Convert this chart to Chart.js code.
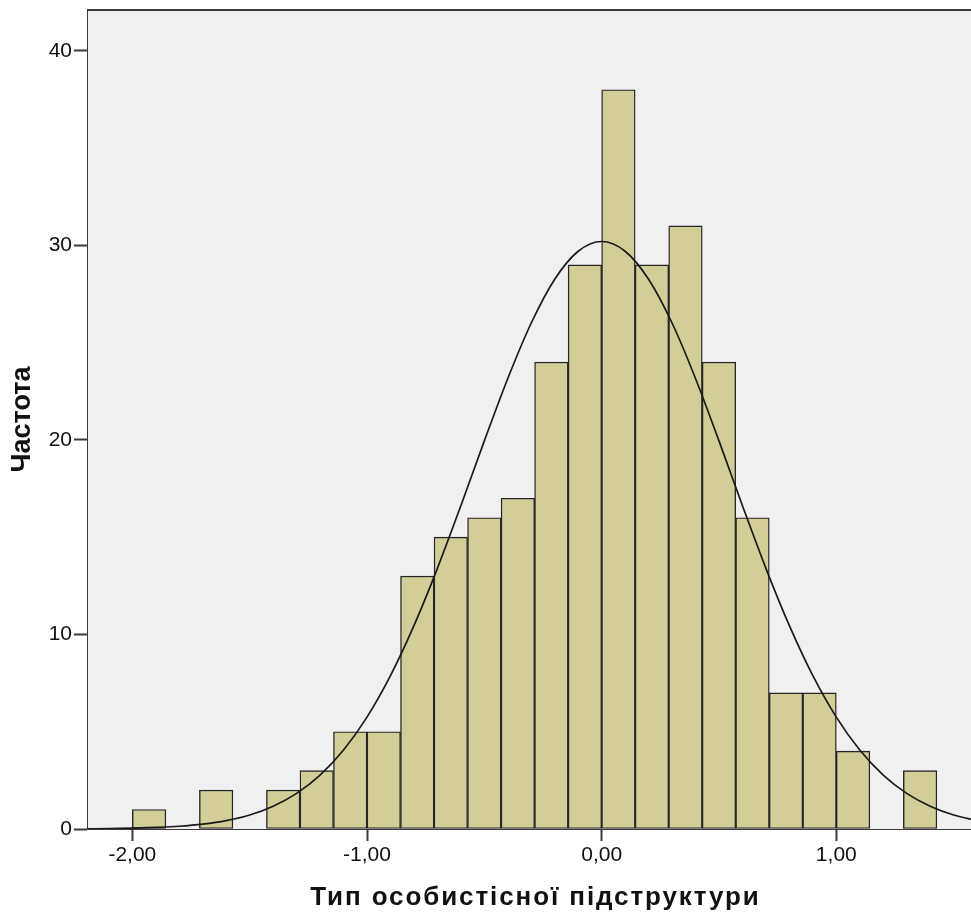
<!DOCTYPE html>
<html>
<head>
<meta charset="utf-8">
<script src="https://cdn.jsdelivr.net/npm/chart.js@4.4.1/dist/chart.umd.min.js"></script>
<style>
  html, body { margin: 0; padding: 0; background: #fff; }
  #wrap { width: 971px; height: 915px; }
</style>
</head>
<body>
<div id="wrap"><canvas id="histChart" width="971" height="915"></canvas></div>
<script>
// histogram bins: first bin starts at -2,00, width 1/7
const binStart = -2;
const binWidth = 1 / 7;
const counts = [1, 0, 2, 0, 2, 3, 5, 5, 13, 15, 16, 17, 24, 29, 38, 29, 31, 24, 16, 7, 7, 4, 0, 3];

// normal curve
const curveX = [-2.2, -2.1, -2.0, -1.9, -1.8, -1.7, -1.6, -1.5, -1.4, -1.3, -1.2, -1.1, -1.0,
  -0.9, -0.8, -0.7, -0.6, -0.5, -0.4, -0.3, -0.2, -0.1, 0.0, 0.1, 0.2, 0.3, 0.4, 0.5, 0.6,
  0.7, 0.8, 0.9, 1.0, 1.1, 1.2, 1.3, 1.4, 1.5, 1.6];
const curveY = [0.01, 0.02, 0.04, 0.08, 0.14, 0.25, 0.43, 0.72, 1.17, 1.83, 2.77, 4.06, 5.75,
  7.88, 10.45, 13.40, 16.62, 19.95, 23.16, 26.01, 28.26, 29.70, 30.2, 29.70, 28.26, 26.01, 23.16, 19.95, 16.62,
  13.40, 10.45, 7.88, 5.75, 4.06, 2.77, 1.83, 1.17, 0.72, 0.43];

const xTicks = [-2, -1, 0, 1];
const yTicks = [0, 10, 20, 30, 40];

const xTitle = 'Тип особистісної підструктури';
const yTitle = 'Частота';

const colors = {
  plotBg: '#f0f0f0',
  bar: '#d3ce97',
  barBorder: '#262626',
  axis: '#3a3a3a',
  curve: '#1a1a1a',
  text: '#111'
};
const fontFamily = '"Liberation Sans", Arial, sans-serif';

const barData = counts.map(function (c, i) {
  return { x: binStart + (i + 0.5) * binWidth, y: c === 0 ? null : c };
});
const curveData = curveX.map(function (x, i) { return { x: x, y: curveY[i] }; });

const plotFrame = {
  id: 'plotFrame',
  beforeDatasetsDraw: function (chart) {
    const a = chart.chartArea;
    const ctx = chart.ctx;
    ctx.save();
    ctx.fillStyle = colors.plotBg;
    ctx.fillRect(a.left, a.top, a.right - a.left, a.bottom - a.top);
    ctx.restore();
  },
  afterDraw: function (chart) {
    const a = chart.chartArea;
    const ctx = chart.ctx;
    ctx.save();
    ctx.strokeStyle = colors.axis;
    ctx.lineWidth = 2;
    ctx.beginPath();
    ctx.moveTo(a.left - 1, a.top);
    ctx.lineTo(a.right, a.top);
    ctx.stroke();
    ctx.restore();
  }
};

// SPSS sets its axis title with wide letter spacing
function spaceTitle(scale, spacing, shiftX) {
  if (scale._spaced) return;
  const orig = scale.drawTitle;
  scale.drawTitle = function () {
    const c = this.ctx;
    c.save();
    c.letterSpacing = spacing;
    c.translate(shiftX, 0);
    orig.call(this);
    c.restore();
  };
  scale._spaced = true;
}

new Chart(document.getElementById('histChart'), {
  type: 'bar',
  data: {
    datasets: [
      {
        type: 'line',
        data: curveData,
        borderColor: colors.curve,
        borderWidth: 1.7,
        pointRadius: 0,
        cubicInterpolationMode: 'monotone',
        fill: false,
        order: 0
      },
      {
        type: 'bar',
        data: barData,
        backgroundColor: colors.bar,
        borderColor: colors.barBorder,
        borderWidth: 1.4,
        borderSkipped: false,
        categoryPercentage: 1,
        barPercentage: 1,
        order: 1
      }
    ]
  },
  plugins: [plotFrame],
  options: {
    responsive: false,
    animation: false,
    layout: { padding: { top: 10, right: 0, bottom: 0, left: 0 } },
    plugins: {
      legend: { display: false },
      tooltip: { enabled: false }
    },
    scales: {
      x: {
        type: 'linear',
        min: -2.189,
        max: 1.574,
        offset: false,
        grid: { display: true, offset: false, drawOnChartArea: false, drawTicks: true, tickLength: 12, tickWidth: 2, color: colors.axis },
        border: { display: true, color: colors.axis, width: 2 },
        afterBuildTicks: function (scale) { scale.ticks = xTicks.map(function (v) { return { value: v }; }); },
        afterFit: function (scale) {
          scale.height = 86;
          scale.paddingLeft = 0;
          scale.paddingRight = 0;
          spaceTitle(scale, '1.9px', 6);
        },
        ticks: {
          padding: 2,
          color: colors.text,
          font: { family: fontFamily, size: 21 },
          callback: function (v) { return v.toFixed(2).replace('.', ','); }
        },
        title: {
          display: true,
          text: xTitle,
          color: colors.text,
          font: { family: fontFamily, size: 26, weight: 'bold' },
          padding: { top: 0, bottom: 2 }
        }
      },
      y: {
        min: 0,
        max: 42.1,
        grid: { display: true, drawOnChartArea: false, drawTicks: true, tickLength: 14, tickWidth: 2, color: colors.axis },
        border: { display: true, color: colors.axis, width: 2 },
        afterBuildTicks: function (scale) { scale.ticks = yTicks.map(function (v) { return { value: v }; }); },
        afterFit: function (scale) {
          scale.width = 88;
          scale.paddingTop = 0;
          scale.paddingBottom = 0;
        },
        ticks: {
          padding: 2,
          color: colors.text,
          font: { family: fontFamily, size: 21 }
        },
        title: {
          display: true,
          text: yTitle,
          color: colors.text,
          font: { family: fontFamily, size: 27, weight: 'bold' },
          padding: { top: 6, bottom: 0 }
        }
      }
    }
  }
});
</script>
</body>
</html>
